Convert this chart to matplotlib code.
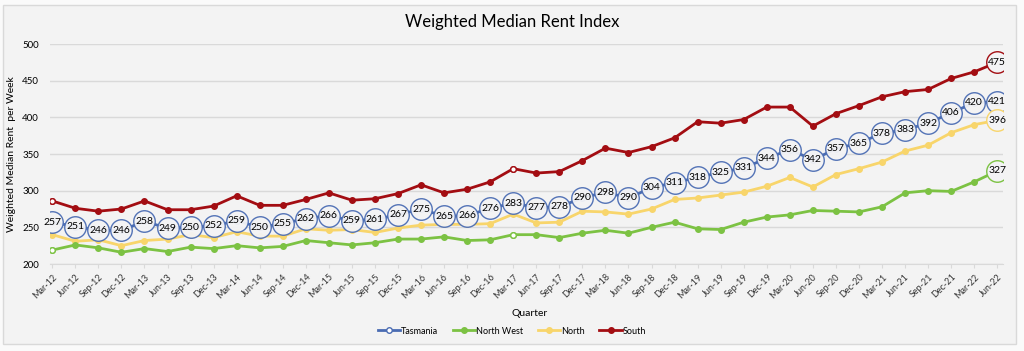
import numpy as np
import matplotlib
matplotlib.use("Agg")
import matplotlib.pyplot as plt
from matplotlib.patches import Rectangle

plt.rcParams['font.family'] = ['Lato', 'DejaVu Sans']

# quarters Mar-12 .. Jun-22
years = range(12, 23)
quarters = [f"{m}-{y}" for y in years for m in ["Mar", "Jun", "Sep", "Dec"]][:42]

tasmania = [257, 251, 246, 246, 258, 249, 250, 252, 259, 250, 255, 262, 266, 259,
            261, 267, 275, 265, 266, 276, 283, 277, 278, 290, 298, 290, 304, 311,
            318, 325, 331, 344, 356, 342, 357, 365, 378, 383, 392, 406, 420, 421]
north_west = [219, 226, 222, 216, 221, 217, 223, 221, 225, 222, 224, 232, 229, 226,
              229, 234, 234, 237, 232, 233, 240, 240, 236, 242, 246, 242, 250, 257,
              248, 247, 257, 264, 267, 273, 272, 271, 278, 297, 300, 299, 312, 327]
north = [240, 231, 233, 225, 232, 234, 240, 236, 244, 238, 238, 248, 246, 247,
         243, 249, 253, 254, 254, 255, 268, 256, 257, 272, 271, 268, 275, 288,
         290, 294, 298, 306, 318, 305, 322, 330, 339, 354, 362, 379, 390, 396]
south = [286, 276, 272, 275, 286, 274, 274, 279, 293, 280, 280, 288, 297, 287,
         289, 296, 308, 297, 302, 312, 330, 324, 326, 341, 358, 352, 360, 372,
         394, 392, 397, 414, 414, 388, 405, 416, 428, 435, 438, 453, 462, 475]

c_tas = '#4a6cb3'
c_nw = '#7cc243'
c_north = '#f8d56b'
c_south = '#a30d12'

fig = plt.figure(figsize=(10.24, 3.51), dpi=100)
fig.patch.set_facecolor('#fafafa')
fig.patches.append(Rectangle((3 / 1024, 1 - 344 / 351), 1013 / 1024, 339 / 351,
                             transform=fig.transFigure, facecolor='#f3f3f3',
                             edgecolor='#d9d9d9', lw=1, zorder=-10))

ax = fig.add_axes([50 / 1024, 1 - 264 / 351, 953 / 1024, 220 / 351])
ax.set_facecolor('none')
x = np.arange(len(quarters))

ax.plot(x, south, color=c_south, lw=2, marker='o', ms=4, zorder=3, label='South')
ax.plot(x, north, color=c_north, lw=2, marker='o', ms=4, zorder=3, label='North')
ax.plot(x, north_west, color=c_nw, lw=2, marker='o', ms=4, zorder=3, label='North West')
ax.plot(x, tasmania, color=c_tas, lw=2, marker='o', ms=4, mfc='white', zorder=4,
        label='Tasmania')

# hollow markers seen on a couple of points
for s, c in [(south, c_south), (north_west, c_nw)]:
    for i in (0, 20):
        ax.plot(x[i], s[i], 'o', ms=4, mfc='white', mec=c, mew=1, zorder=5)

# labelled circles
for i, v in enumerate(tasmania):
    ax.scatter(x[i], v, s=240, facecolor='#f3f3f5', edgecolor=c_tas, lw=1,
               alpha=0.95, zorder=6)
    ax.text(x[i], v, str(v), ha='center', va='center', fontsize=7.5, zorder=7)
for s, c in [(south, c_south), (north, c_north), (north_west, c_nw)]:
    ax.scatter(x[-1], s[-1], s=240, facecolor='#f3f3f5', edgecolor=c, lw=1, zorder=6)
    ax.text(x[-1], s[-1], str(s[-1]), ha='center', va='center', fontsize=7.5, zorder=7)

ax.set_xlim(-0.1, 41.25)
ax.set_ylim(200, 500)
ax.set_yticks(range(200, 501, 50))
ax.set_xticks(x)
ax.set_xticklabels(quarters, rotation=45, ha='right', rotation_mode='anchor',
                   fontsize=6.5, color='#333333')
ax.tick_params(axis='y', labelsize=7, length=0, pad=8)
ax.tick_params(axis='x', length=3, color='#d9d9d9', pad=3)
ax.grid(axis='y', color='#d9d9d9', lw=1)
ax.set_axisbelow(True)
for sp in ['top', 'right', 'left']:
    ax.spines[sp].set_visible(False)
ax.spines['bottom'].set_color('#d9d9d9')

ax.set_ylabel('Weighted Median Rent  per Week', fontsize=7.5)
fig.text(530 / 1024, 1 - 313 / 351, 'Quarter', ha='center', va='center', fontsize=7.5)
fig.text(512 / 1024, 1 - 22 / 351, 'Weighted Median Rent Index', ha='center',
         va='center', fontsize=12)

h, l = ax.get_legend_handles_labels()
order = [3, 2, 1, 0]
leg = fig.legend([h[i] for i in order], [l[i] for i in order], loc='center',
                 bbox_to_anchor=(512 / 1024, 1 - 331 / 351), ncol=4, frameon=False,
                 fontsize=6.5, handlelength=2.5, columnspacing=1.6, handletextpad=0.1)

fig.savefig('out.png', dpi=100, facecolor=fig.get_facecolor())
